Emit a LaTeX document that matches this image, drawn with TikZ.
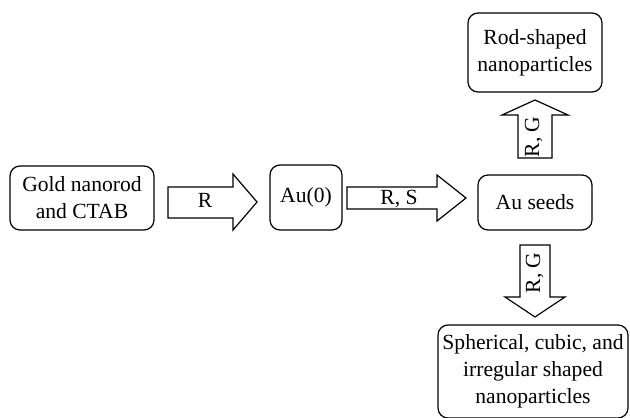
\documentclass[tikz,border=0pt]{standalone}
\usepackage{fontspec}
\setmainfont{Liberation Serif}
\usetikzlibrary{calc}
\tikzset{
  box/.style={draw, line width=0.6pt, rounded corners=5pt, align=center,
    inner sep=0pt, font=\fontsize{10.8}{13.5}\selectfont},
  fatarrow/.style={draw, line width=0.6pt, line join=miter},
  arrowtext/.style={font=\fontsize{10.8}{12}\selectfont, inner sep=0pt, anchor=base}
}
\begin{document}
\begin{tikzpicture}[x=0.5pt, y=-0.5pt]
\useasboundingbox (0,0) rectangle (630,417);
% boxes
\node[box, minimum width=72pt, minimum height=32pt] (gold) at (82,198) {Gold nanorod\\and CTAB};
\node[box, minimum width=36pt, minimum height=32.5pt] (au0) at (306,197.5) {Au(0)};
\node[box, minimum width=57pt, minimum height=27.5pt] (seeds) at (535,202.5) {Au seeds};
\node[box, minimum width=67pt, minimum height=39.5pt] (rod) at (535,52.5) {Rod-shaped\\nanoparticles};
\node[box, minimum width=95pt, minimum height=46.5pt] (sph) at (533,371.5) {Spherical, cubic, and\\irregular shaped\\nanoparticles};
% block arrows
\draw[fatarrow] (168,187) -- (233,187) -- (233,174) -- (257,202) -- (233,230) -- (233,218) -- (168,218) -- cycle;
\node[arrowtext] (r) at (205,207) {R};
\draw[fatarrow] (347,187) -- (437,187) -- (437,175) -- (466,198) -- (437,221) -- (437,209) -- (347,209) -- cycle;
\node[arrowtext] (rs) at (399,204) {R, S};
\draw[fatarrow] (518,158) -- (518,115) -- (502,115) -- (535,100) -- (568,115) -- (552,115) -- (552,158) -- cycle;
\node[arrowtext, rotate=90] (rgup) at (539,137) {R, G};
\draw[fatarrow] (520,245) -- (520,297) -- (505,297) -- (535,317) -- (565,297) -- (550,297) -- (550,245) -- cycle;
\node[arrowtext, rotate=90] (rgdown) at (540,273) {R, G};
\end{tikzpicture}
\end{document}
